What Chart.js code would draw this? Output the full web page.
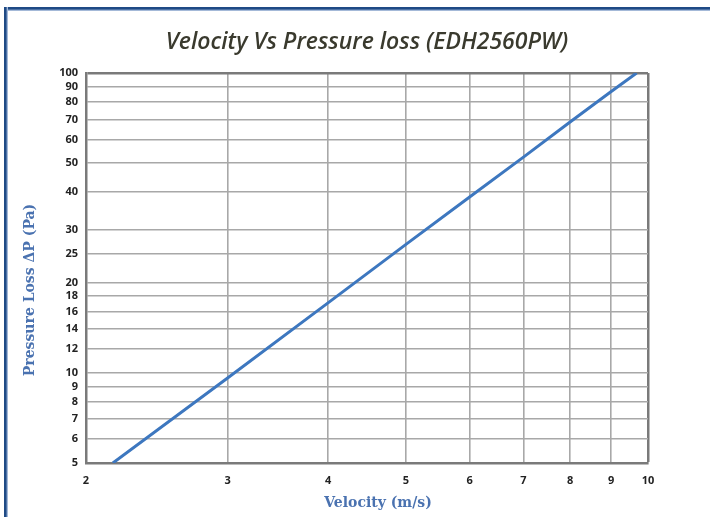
<!DOCTYPE html>
<html>
<head>
<meta charset="utf-8">
<script src="https://cdn.jsdelivr.net/npm/chart.js@4/dist/chart.umd.min.js"></script>
<style>
  html, body { margin: 0; padding: 0; background: #ffffff; }
  #wrap { position: relative; width: 710px; height: 517px; overflow: hidden; }
  canvas { position: absolute; left: 0; top: 0; }
  .fTop { position: absolute; left: 4px; top: 7px; width: 706px; height: 4px;
          background: linear-gradient(to bottom, #1f4a85 0, #1f4a85 2px, #7f9cc6 3px, #c9d6ea 4px); }
  .fLeft { position: absolute; left: 4px; top: 7px; width: 4px; height: 510px;
          background: linear-gradient(to right, #1f4a85 0, #1f4a85 2px, #7f9cc6 3px, #c9d6ea 4px); }
</style>
</head>
<body>
<div id="wrap">
  <canvas id="c" width="710" height="517"></canvas>
  <div class="fTop"></div>
  <div class="fLeft"></div>
</div>
<script>
// Data
const velocity = [2.16, 3, 4, 5, 6, 7, 8, 9, 9.68];
const pressureLoss = [5, 9.6, 17.1, 26.8, 38.6, 52.4, 68.6, 86.8, 100];
const xTicks = [2, 3, 4, 5, 6, 7, 8, 9, 10];
const yTicks = [5, 6, 7, 8, 9, 10, 12, 14, 16, 18, 20, 25, 30, 40, 50, 60, 70, 80, 90, 100];
const xAxisTitle = 'Velocity (m/s)';
const yAxisTitle = 'Pressure Loss ΔP (Pa)';

const points = velocity.map((v, i) => ({ x: v, y: pressureLoss[i] }));

const tickFont = { family: "'Open Sans', 'Liberation Sans', sans-serif", size: 11, weight: 'bold' };
const axisTitleFontCss = "bold 14px 'DejaVu Serif', 'Liberation Serif', serif";

const axisTitles = {
  id: 'axisTitles',
  afterDraw(chart) {
    const { ctx, chartArea: a } = chart;
    ctx.save();
    ctx.fillStyle = '#4a72b0';
    ctx.font = axisTitleFontCss;
    ctx.textAlign = 'center';
    ctx.textBaseline = 'middle';
    ctx.fillText(xAxisTitle, (a.left + a.right) / 2 + 11, 503);
    ctx.translate(30, (a.top + a.bottom) / 2 + 22);
    ctx.rotate(-Math.PI / 2);
    ctx.fillText(yAxisTitle, 0, 0);
    ctx.restore();
  }
};

new Chart(document.getElementById('c'), {
  type: 'scatter',
  data: {
    datasets: [{
      data: points,
      showLine: true,
      borderColor: '#3d77bf',
      borderWidth: 3,
      pointRadius: 0,
      tension: 0
    }]
  },
  plugins: [axisTitles],
  options: {
    responsive: false,
    animation: false,
    layout: { padding: { left: 0, right: 62, top: 0, bottom: 0 } },
    plugins: {
      legend: { display: false },
      tooltip: { enabled: false },
      title: {
        display: true,
        fullSize: false,
        text: 'Velocity Vs Pressure loss (EDH2560PW)',
        color: '#3a3a2e',
        font: { family: "'Open Sans', 'Noto Sans', sans-serif", size: 23, style: 'italic', weight: '600', lineHeight: 1.2 },
        padding: { top: 28.5, bottom: 16.9 }
      }
    },
    scales: {
      x: {
        type: 'logarithmic',
        min: 2,
        max: 10,
        afterBuildTicks: (s) => { s.ticks = xTicks.map(v => ({ value: v })); },
        afterFit: (s) => { s.height = 54; },
        ticks: {
          autoSkip: false,
          maxRotation: 0,
          padding: 11,
          color: '#222',
          font: tickFont,
          callback: (v) => String(v)
        },
        grid: {
          drawTicks: false,
          color: (ctx) => (ctx.tick && ctx.tick.value === 10) ? '#7a7a7a' : '#a8a8a8',
          lineWidth: (ctx) => (ctx.tick && ctx.tick.value === 10) ? 2.5 : 1.6
        },
        border: { display: true, color: '#7a7a7a', width: 2.5 },
        title: { display: false }
      },
      y: {
        type: 'logarithmic',
        min: 5,
        max: 100,
        afterBuildTicks: (s) => { s.ticks = yTicks.map(v => ({ value: v })); },
        afterFit: (s) => { s.width = 86; },
        ticks: {
          autoSkip: false,
          padding: 8,
          color: '#222',
          font: tickFont,
          callback: (v) => String(v)
        },
        grid: {
          drawTicks: false,
          color: (ctx) => (ctx.tick && ctx.tick.value === 100) ? '#7a7a7a' : '#a8a8a8',
          lineWidth: (ctx) => (ctx.tick && ctx.tick.value === 100) ? 2.5 : 1.6
        },
        border: { display: true, color: '#7a7a7a', width: 2.5 },
        title: { display: false }
      }
    }
  }
});
</script>
</body>
</html>
